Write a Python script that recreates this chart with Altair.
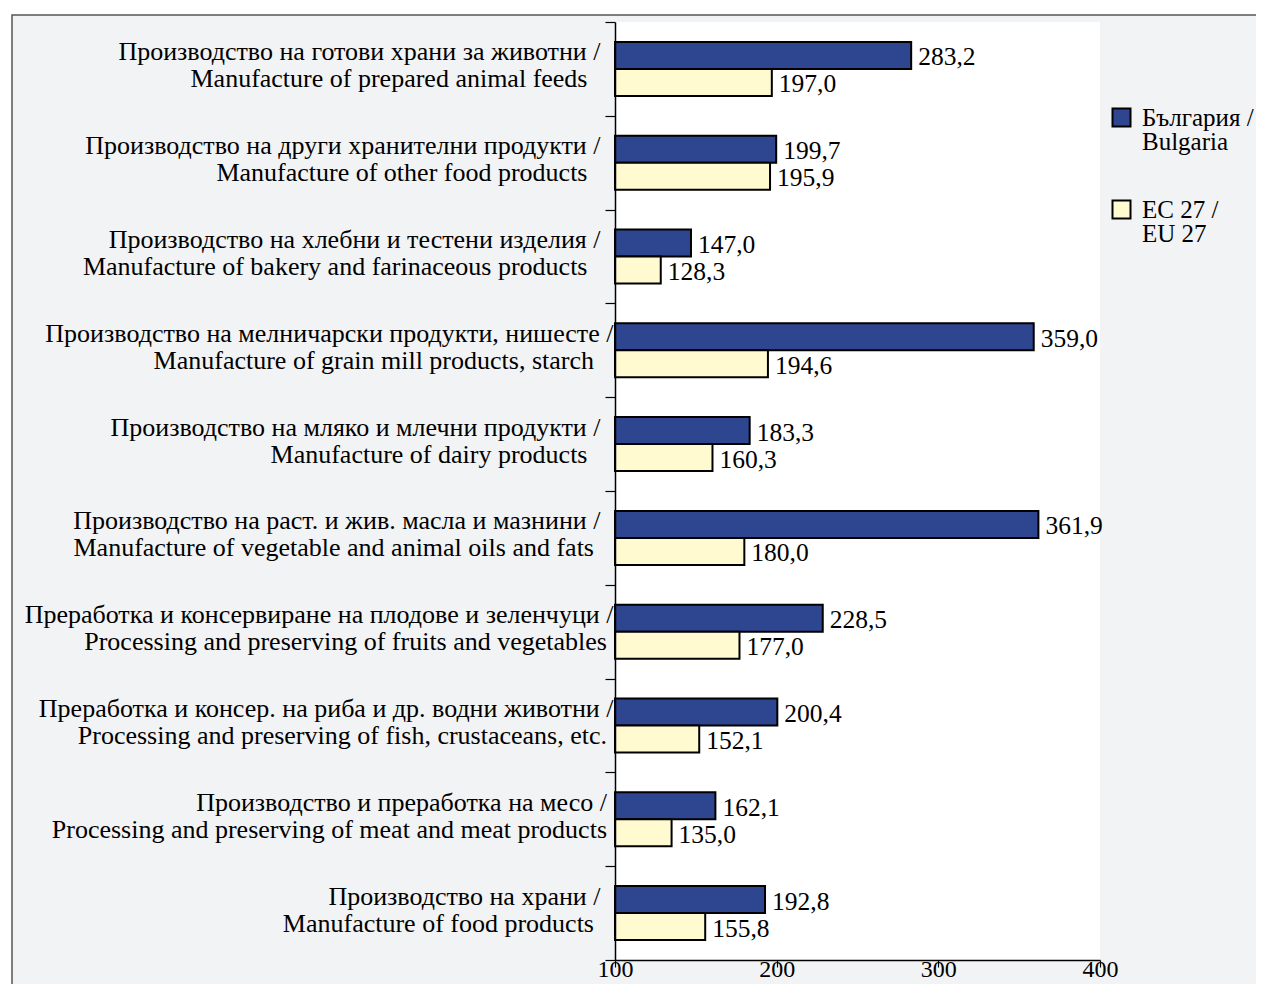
import altair as alt
import pandas as pd

categories_bg = [
    "Производство на готови храни за животни /",
    "Производство на други хранителни продукти /",
    "Производство на хлебни и тестени изделия /",
    "Производство на мелничарски продукти, нишесте /",
    "Производство на мляко и млечни продукти /",
    "Производство на раст. и жив. масла и мазнини /",
    "Преработка и консервиране на плодове и зеленчуци /",
    "Преработка и консер. на риба и др. водни животни /",
    "Производство и преработка на месо /",
    "Производство на храни /",
]
categories_en = [
    "Manufacture of prepared animal feeds",
    "Manufacture of other food products",
    "Manufacture of bakery and farinaceous products",
    "Manufacture of grain mill products, starch",
    "Manufacture of dairy products",
    "Manufacture of vegetable and animal oils and fats",
    "Processing and preserving of fruits and vegetables",
    "Processing and preserving of fish, crustaceans, etc.",
    "Processing and preserving of meat and meat products",
    "Manufacture of food products",
]
bulgaria = [283.2, 199.7, 147.0, 359.0, 183.3, 361.9, 228.5, 200.4, 162.1, 192.8]
eu27 = [197.0, 195.9, 128.3, 194.6, 160.3, 180.0, 177.0, 152.1, 135.0, 155.8]
series = ["България /|Bulgaria", "ЕС 27 /|EU 27"]
x_ticks = [100, 200, 300, 400]

# trailing non-breaking spaces reproducing the ragged right edge of the labels
# (a zero-width space at the end keeps them from being trimmed)
pad_bg = [2, 2, 2, 0, 2, 2, 0, 0, 1, 2]
pad_en = [4, 4, 4, 3, 4, 3, 1, 1, 1, 3]
NB = "\u00a0"
ZW = "\u200b"
cats = [b + NB * pb + ZW + "|" + e + NB * pe + ZW
        for b, e, pb, pe in zip(categories_bg, categories_en, pad_bg, pad_en)]

rows = []
for c, bv, ev in zip(cats, bulgaria, eu27):
    rows.append({"cat": c, "series": series[0], "value": bv})
    rows.append({"cat": c, "series": series[1], "value": ev})
df = pd.DataFrame(rows)
df["lbl"] = df["value"].map(lambda v: f"{v:.1f}".replace(".", ","))

FONT = "Liberation Serif"
W, H = 485, 938
BLUE = "#2e468f"
YELLOW = "#fffad0"

y_enc = alt.Y(
    "cat:N", sort=cats,
    scale=alt.Scale(paddingInner=0, paddingOuter=0),
    axis=alt.Axis(
        title=None, labelExpr="split(datum.label, '|')",
        labelFont=FONT, labelFontSize=26, labelLineHeight=27, labelColor="black",
        labelPadding=-8, labelOffset=-17, labelLimit=900, tickBand="extent",
        tickSize=10, tickColor="black", tickWidth=1.2, domainColor="black",
        domainWidth=1.5, zindex=1,
    ),
)
yoff = alt.YOffset("series:N", sort=series,
                   scale=alt.Scale(paddingInner=0, paddingOuter=0.737))
x_enc = alt.X(
    "value:Q",
    scale=alt.Scale(domain=[100, 400], nice=False, zero=False),
    axis=alt.Axis(
        title=None, values=x_ticks, grid=False, tickSize=7, tickColor="black",
        tickWidth=1.2, domainColor="black", domainWidth=1.5, labelFont=FONT,
        labelFontSize=24, labelColor="black", labelBaseline="alphabetic",
        labelPadding=9, labelFlush=False, zindex=1,
    ),
)

one = pd.DataFrame({"a": [0]})
bg = alt.Chart(one).mark_rect(fill="#f2f3f5", stroke="#555555", strokeWidth=1.5).encode(
    x=alt.value(-603), x2=alt.value(700), y=alt.value(-7), y2=alt.value(1000)
)
plot_bg = alt.Chart(one).mark_rect(fill="white").encode(
    x=alt.value(0), x2=alt.value(W), y=alt.value(0), y2=alt.value(H)
)

bars = alt.Chart(df).mark_bar(stroke="black", strokeWidth=2).encode(
    y=y_enc, yOffset=yoff, x=x_enc, x2=alt.datum(100),
    color=alt.Color(
        "series:N", sort=series,
        scale=alt.Scale(domain=series, range=[BLUE, YELLOW]),
        legend=alt.Legend(
            title=None, orient="none", legendX=494, legendY=83, padding=0,
            labelExpr="split(datum.label, '|')", labelFont=FONT, labelFontSize=25,
            labelColor="black", labelOffset=8, labelLimit=300,
            symbolType="square", symbolSize=324, symbolStrokeColor="black",
            symbolStrokeWidth=2, rowPadding=41, zindex=1,
        ),
    ),
)
texts = alt.Chart(df).mark_text(
    align="left", baseline="middle", dx=7, dy=2, font=FONT, fontSize=25.5, color="black"
).encode(y=alt.Y("cat:N", sort=cats), yOffset=alt.YOffset("series:N", sort=series),
         x=alt.X("value:Q"), text="lbl:N")

chart = alt.layer(bg, plot_bg, bars, texts).properties(
    width=W, height=H,
    autosize="none",
    padding={"left": 607, "top": 14, "right": 156, "bottom": 24},
    background="white",
).configure(style={"guide-label": {"lineHeight": 24}}).configure_view(stroke=None)

chart.save("out.html", embed_options={"renderer": "svg", "actions": False})
